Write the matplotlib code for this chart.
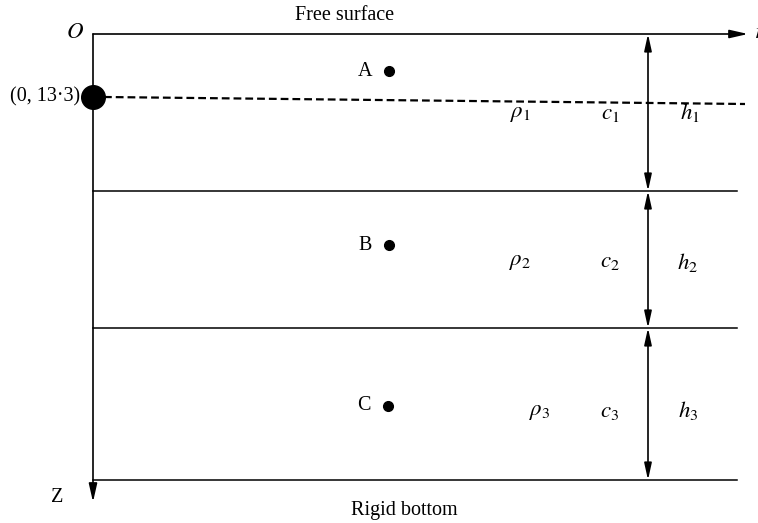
import matplotlib.pyplot as plt

plt.rcParams['font.family'] = ['Liberation Serif', 'DejaVu Serif']
plt.rcParams['mathtext.fontset'] = 'stix'

# Geometrie du schema (unites = pixels de l'image de reference)
x_axe = 93
x_fin = 737
y_surface = 34
y_interfaces = [191, 328, 480]
x_fleches = 648

# Ligne pointillee de la source
source = (93, 97)
ligne_source_x = [104, 745]
ligne_source_y = [97, 104]

# Points de reception
points_noms = ["A", "B", "C"]
points_x = [389, 389, 388]
points_y = [71, 245, 406]

# Parametres des couches
couches_rho = [r"$\rho_1$", r"$\rho_2$", r"$\rho_3$"]
couches_c = [r"$c_1$", r"$c_2$", r"$c_3$"]
couches_h = [r"$h_1$", r"$h_2$", r"$h_3$"]
rho_x = [520, 520, 540]
c_x = [610, 610, 610]
h_x = [690, 688, 688]
couches_y = [113, 262, 411]

fig = plt.figure(figsize=(7.58, 5.23), dpi=100)
ax = fig.add_axes([0, 0, 1, 1])
ax.set_xlim(0, 758)
ax.set_ylim(523, 0)
ax.axis("off")

fs = 14.5
fs_sym = 16.5

# Axes r et z
ax.annotate("", xy=(748, y_surface), xytext=(x_axe, y_surface),
            arrowprops=dict(arrowstyle="-|>,head_length=1.1,head_width=0.25", color="black", lw=1.2,
                            shrinkA=0, shrinkB=0))
ax.annotate("", xy=(x_axe, 502), xytext=(x_axe, y_surface),
            arrowprops=dict(arrowstyle="-|>,head_length=1.1,head_width=0.25", color="black", lw=1.2,
                            shrinkA=0, shrinkB=0))

# Interfaces
for y in y_interfaces:
    ax.plot([x_axe, x_fin], [y, y], color="black", lw=1.1)

# Fleches doubles pour les epaisseurs
bornes = [y_surface] + y_interfaces
for i in range(3):
    ax.annotate("", xy=(x_fleches, bornes[i + 1]), xytext=(x_fleches, bornes[i]),
                arrowprops=dict(arrowstyle="<|-|>,head_length=1.0,head_width=0.22",
                                color="black", lw=1.2, shrinkA=0, shrinkB=0))

# Source et ligne pointillee
ax.plot(ligne_source_x, ligne_source_y, color="black", lw=1.6, ls=(0, (3.5, 1.8)))
ax.plot(source[0], source[1], "o", color="black", ms=17)

# Points A, B, C
for nom, px, py in zip(points_noms, points_x, points_y):
    ax.plot(px, py, "o", color="black", ms=7)
    ax.text(px - 17, py, nom, fontsize=fs, ha="right", va="center")

# Parametres des couches
for i in range(3):
    ax.text(rho_x[i], couches_y[i], couches_rho[i], fontsize=fs_sym, ha="center", va="center")
    ax.text(c_x[i], couches_y[i], couches_c[i], fontsize=fs_sym, ha="center", va="center")
    ax.text(h_x[i], couches_y[i], couches_h[i], fontsize=fs_sym, ha="center", va="center")

# Etiquettes
ax.text(345, 15, "Free surface", fontsize=fs, ha="center", va="center")
ax.text(404, 510, "Rigid bottom", fontsize=fs, ha="center", va="center")
ax.text(75, 33, r"$O$", fontsize=fs_sym, ha="center", va="center")
ax.text(57, 497, "Z", fontsize=fs, ha="center", va="center")
ax.text(754, 33, r"$r$", fontsize=fs_sym, ha="left", va="center")
ax.text(80, 97, "(0, 13·3)", fontsize=fs, ha="right", va="center")

fig.savefig("out.png", dpi=100)
